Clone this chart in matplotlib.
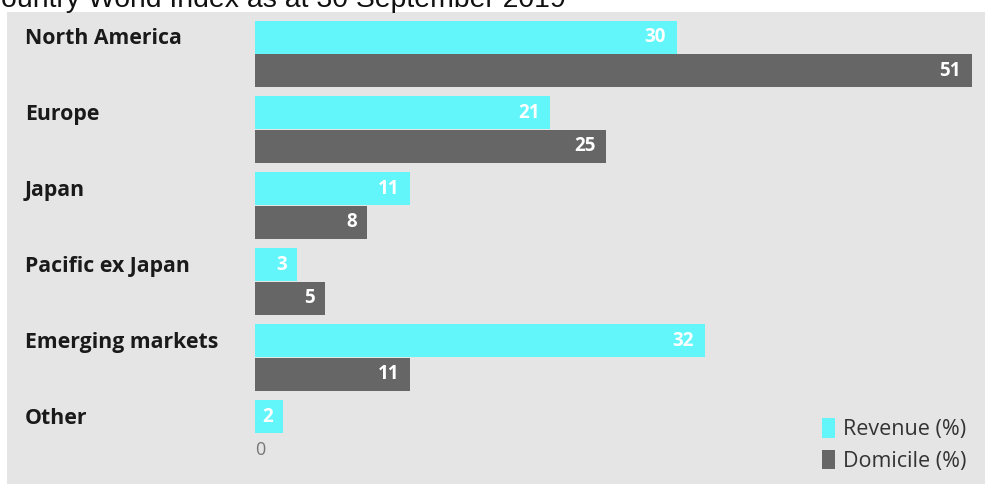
import matplotlib.pyplot as plt
from matplotlib.patches import Rectangle
from matplotlib.transforms import blended_transform_factory

regions = ["North America", "Europe", "Japan", "Pacific ex Japan", "Emerging markets", "Other"]
revenue = [30, 21, 11, 3, 32, 2]
domicile = [51, 25, 8, 5, 11, None]

cyan = "#62F6FB"
dark = "#666666"
panel = "#E5E5E5"

W, H = 991, 484
fig = plt.figure(figsize=(W / 100, H / 100), dpi=100)
fig.patch.set_facecolor("white")

# grey panel behind the whole chart
fig.patches.append(Rectangle((7 / W, 0), (985 - 7) / W, (H - 12) / H,
                             transform=fig.transFigure, facecolor=panel,
                             edgecolor="none", zorder=-5))

# headline, partly cut off at the top edge
fig.text(566 / W, 1 - 7 / H, "MSCI All Country World Index as at 30 September 2019",
         ha="right", va="baseline", fontsize=20.4, family="Liberation Sans",
         color="#111111")

ax_left, ax_right = 255, 985
ax_top, ax_bottom = 12, 438
ax = fig.add_axes([ax_left / W, 1 - ax_bottom / H, (ax_right - ax_left) / W,
                   (ax_bottom - ax_top) / H])
ax.patch.set_alpha(0)

step = 75.9
first = 53.75
ax.set_ylim((ax_bottom - first) / step, (ax_top - first) / step)
ax.set_xlim(0, (ax_right - ax_left) / 14.05)

bh = 33 / step
off = 16.75 / step
ypos = list(range(len(regions)))

rev_y = [y - off for y in ypos]
ax.barh(rev_y, revenue, height=bh, color=cyan, label="Revenue (%)")
dom_vals = [d for d in domicile if d is not None]
dom_y = [y + off for y, d in zip(ypos, domicile) if d is not None]
ax.barh(dom_y, dom_vals, height=bh, color=dark, label="Domicile (%)")

pad = 0.75
for y, v in zip(rev_y, revenue):
    ax.text(v - pad, y, str(v), ha="right", va="center", color="white",
            fontsize=13.5, fontweight="bold", family="Open Sans")
for y, v in zip(dom_y, dom_vals):
    ax.text(v - pad, y, str(v), ha="right", va="center", color="white",
            fontsize=13.5, fontweight="bold", family="Open Sans")

# region names sit level with the revenue bars
trans = blended_transform_factory(fig.transFigure, ax.transData)
for y, name in zip(rev_y, regions):
    ax.text(25 / W, y + 0.02, name, transform=trans, ha="left", va="center",
            fontsize=15.3, fontweight="bold", family="Open Sans", color="#1a1a1a")

for s in ax.spines.values():
    s.set_visible(False)
ax.set_yticks([])
ax.set_xticks([0])
ax.set_xticklabels(["0"], fontsize=13, color="#777777", family="Open Sans")
ax.tick_params(axis="x", length=0, pad=2)
for lbl in ax.get_xticklabels():
    lbl.set_horizontalalignment("left")

leg = fig.legend(loc="lower right", bbox_to_anchor=(966 / W, 12 / H),
                 frameon=False, handlelength=0.6, handleheight=1.0,
                 handletextpad=0.35, labelspacing=0.45,
                 borderpad=0, borderaxespad=0,
                 prop={"family": "Open Sans", "size": 15.5})
for t in leg.get_texts():
    t.set_color("#333333")

fig.savefig("out.png", dpi=100)
